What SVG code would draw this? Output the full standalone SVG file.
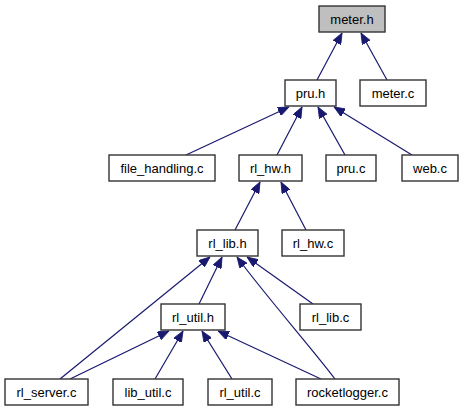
<svg xmlns="http://www.w3.org/2000/svg" width="465" height="411" viewBox="0 0 465 411">
<defs>
<marker id="arr" markerWidth="11" markerHeight="9" refX="11" refY="4.5" orient="auto" markerUnits="userSpaceOnUse">
<path d="M0,0 L11,4.5 L0,9 z" fill="#191970" stroke="#191970" stroke-width="0.8"/>
</marker>
</defs>
<style>
.n rect{fill:#ffffff;stroke:#333333;stroke-width:1.4}
.n.cur rect{fill:#bfbfbf}
.n text{font-family:"Liberation Sans",Arial,Helvetica,sans-serif;font-size:13px;fill:#000000;text-anchor:middle}
.e line,.e path{stroke:#191970;stroke-width:1.2;fill:none;marker-end:url(#arr)}
</style>
<rect width="465" height="411" fill="#ffffff"/>
<g id="edges" class="e">
<line x1="317" y1="80" x2="342" y2="33"/>
<line x1="387" y1="80" x2="361" y2="33"/>
<line x1="186" y1="155" x2="289" y2="107"/>
<line x1="277" y1="155" x2="302" y2="107"/>
<line x1="345" y1="155" x2="318" y2="107"/>
<line x1="412" y1="155" x2="334" y2="107"/>
<line x1="235" y1="230" x2="260" y2="182"/>
<line x1="306" y1="230" x2="281" y2="182"/>
<line x1="199" y1="304" x2="222" y2="257"/>
<line x1="60" y1="379" x2="210" y2="257"/>
<path d="M335,379 C315,352 265,295 237,257"/>
<line x1="313" y1="304" x2="247" y2="257"/>
<line x1="70" y1="379" x2="169" y2="331"/>
<line x1="155" y1="379" x2="183" y2="331"/>
<line x1="232" y1="379" x2="202" y2="331"/>
<line x1="321" y1="379" x2="218" y2="331"/>
</g>
<g id="meter_h" class="n cur"><rect x="319" y="6" width="66" height="26"/><text x="352" y="23.5">meter.h</text></g>
<g id="pru_h" class="n"><rect x="285" y="80" width="51" height="26"/><text x="310.5" y="97.5">pru.h</text></g>
<g id="meter_c" class="n"><rect x="360" y="80" width="66" height="26"/><text x="393" y="97.5">meter.c</text></g>
<g id="file_handling_c" class="n"><rect x="109" y="155" width="106" height="26"/><text x="162" y="172.5">file_handling.c</text></g>
<g id="rl_hw_h" class="n"><rect x="239" y="155" width="63" height="26"/><text x="270.5" y="172.5">rl_hw.h</text></g>
<g id="pru_c" class="n"><rect x="326" y="155" width="50" height="26"/><text x="351" y="172.5">pru.c</text></g>
<g id="web_c" class="n"><rect x="402" y="155" width="56" height="26"/><text x="430" y="172.5">web.c</text></g>
<g id="rl_lib_h" class="n"><rect x="197" y="230" width="61" height="26"/><text x="227.5" y="247.5">rl_lib.h</text></g>
<g id="rl_hw_c" class="n"><rect x="282" y="230" width="62" height="26"/><text x="313" y="247.5">rl_hw.c</text></g>
<g id="rl_util_h" class="n"><rect x="161" y="304" width="64" height="26"/><text x="193" y="321.5">rl_util.h</text></g>
<g id="rl_lib_c" class="n"><rect x="300" y="304" width="61" height="26"/><text x="330.5" y="321.5">rl_lib.c</text></g>
<g id="rl_server_c" class="n"><rect x="5" y="379" width="83" height="26"/><text x="46.5" y="396.5">rl_server.c</text></g>
<g id="lib_util_c" class="n"><rect x="113" y="379" width="70" height="26"/><text x="148" y="396.5">lib_util.c</text></g>
<g id="rl_util_c" class="n"><rect x="208" y="379" width="64" height="26"/><text x="240" y="396.5">rl_util.c</text></g>
<g id="rocketlogger_c" class="n"><rect x="296" y="379" width="103" height="26"/><text x="347.5" y="396.5">rocketlogger.c</text></g>
</svg>
